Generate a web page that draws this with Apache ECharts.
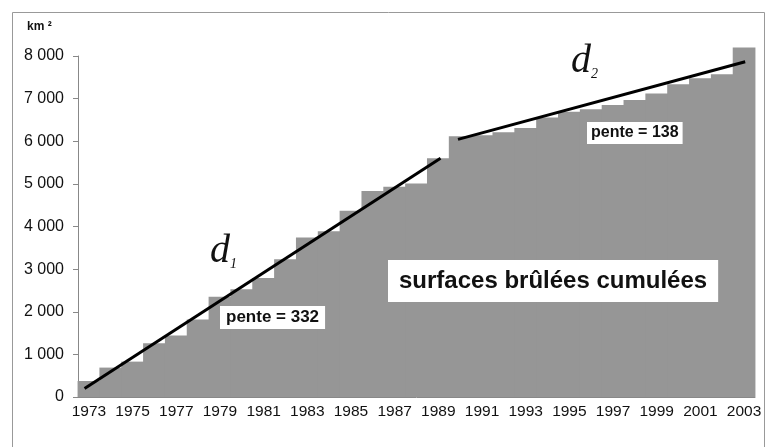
<!DOCTYPE html>
<html>
<head>
<meta charset="utf-8">
<script src="https://cdn.jsdelivr.net/npm/echarts@6/dist/echarts.min.js"></script>
<style>
  html, body { margin: 0; padding: 0; background: #fff; }
  #surfacesChart { width: 765px; height: 447px; }
</style>
</head>
<body>
<div id="surfacesChart"></div>
<script>
// années
var years = [];
for (var y = 1973; y <= 2003; y++) years.push(String(y));

// surfaces brûlées cumulées (km²)
var cumul = [375, 690, 830, 1260, 1440, 1820, 2350, 2530, 2790, 3230,
  3740, 3890, 4370, 4830, 4930, 5010, 5600, 6120, 6140, 6210,
  6310, 6560, 6690, 6750, 6850, 6970, 7120, 7340, 7480, 7570, 8200];

// droites d'ajustement [année, km²]
var d1 = [[1972.8, 200], [1989.1, 5600]];
var d2 = [[1989.9, 6045], [2003.05, 7866]];

var yTicks = { min: 0, max: 8000, interval: 1000 };

var font = "'Liberation Sans', Arial, sans-serif";
var serif = "'Liberation Serif', 'Times New Roman', serif";

function fmtThousands(v) {
  return String(v).replace(/\B(?=(\d{3})+(?!\d))/g, " ");
}

var myChart = echarts.init(document.getElementById("surfacesChart"));

var option = {
  animation: false,
  backgroundColor: "#fff",
  grid: { left: 78, right: 10, top: 56, bottom: 50 },
  xAxis: [
    {
      type: "category",
      data: years,
      boundaryGap: true,
      axisLine: { lineStyle: { color: "#888", width: 1 } },
      axisTick: { interval: 1, length: 5, lineStyle: { color: "#888" } },
      axisLabel: { interval: 1, color: "#111", fontFamily: font, fontSize: 15.5, margin: 7 }
    },
    {
      // axe caché pour placer les droites
      type: "value",
      min: 1972.5,
      max: 2003.5,
      show: false
    }
  ],
  yAxis: {
    type: "value",
    min: yTicks.min,
    max: yTicks.max,
    interval: yTicks.interval,
    axisLine: { show: true, lineStyle: { color: "#888", width: 1 } },
    axisTick: { show: true, length: 5, lineStyle: { color: "#888" } },
    splitLine: { show: false },
    axisLabel: {
      color: "#111",
      fontFamily: font,
      fontSize: 16,
      margin: 14,
      formatter: fmtThousands
    }
  },
  series: [
    {
      name: "surfaces brûlées cumulées",
      type: "bar",
      data: cumul,
      barWidth: "104%",
      clip: false, // 2003 dépasse 8 000
      itemStyle: { color: "#969696" }
    },
    {
      name: "d1",
      type: "line",
      xAxisIndex: 1,
      data: d1,
      symbol: "none",
      lineStyle: { color: "#000", width: 3 },
      z: 5
    },
    {
      name: "d2",
      type: "line",
      xAxisIndex: 1,
      data: d2,
      symbol: "none",
      lineStyle: { color: "#000", width: 3 },
      z: 5
    }
  ],
  graphic: [
    {
      type: "rect",
      left: 10, top: 10,
      shape: { width: 752, height: 450 },
      style: { fill: "none", stroke: "#999", lineWidth: 1 },
      silent: true,
      z: 100
    },
    {
      type: "text",
      left: 27, top: 21,
      z: 100,
      style: { text: "km ²", font: "bold 12px " + font, fill: "#111" }
    },
    {
      type: "text",
      left: 210, top: 231,
      z: 100,
      style: {
        text: "{d|d}{s|1}",
        rich: {
          d: { font: "italic 40px " + serif, fill: "#111" },
          s: { font: "italic 14px " + serif, fill: "#111", padding: [26, 0, 0, 0] }
        }
      }
    },
    {
      type: "text",
      left: 571, top: 41,
      z: 100,
      style: {
        text: "{d|d}{s|2}",
        rich: {
          d: { font: "italic 40px " + serif, fill: "#111" },
          s: { font: "italic 14px " + serif, fill: "#111", padding: [26, 0, 0, 0] }
        }
      }
    },
    {
      type: "text",
      left: 220, top: 306,
      z: 100,
      style: {
        text: "pente = 332",
        font: "bold 17px " + font,
        fill: "#111",
        backgroundColor: "#fff",
        padding: [3, 6, 3, 6]
      }
    },
    {
      type: "text",
      left: 587, top: 122,
      z: 100,
      style: {
        text: "pente = 138",
        font: "bold 16px " + font,
        fill: "#111",
        backgroundColor: "#fff",
        padding: [3, 4, 3, 4]
      }
    },
    {
      type: "text",
      left: 388, top: 260,
      z: 100,
      style: {
        text: "surfaces brûlées cumulées",
        font: "bold 24px " + font,
        fill: "#111",
        backgroundColor: "#fff",
        padding: [9, 11, 9, 11]
      }
    }
  ]
};

myChart.setOption(option);
</script>
</body>
</html>
